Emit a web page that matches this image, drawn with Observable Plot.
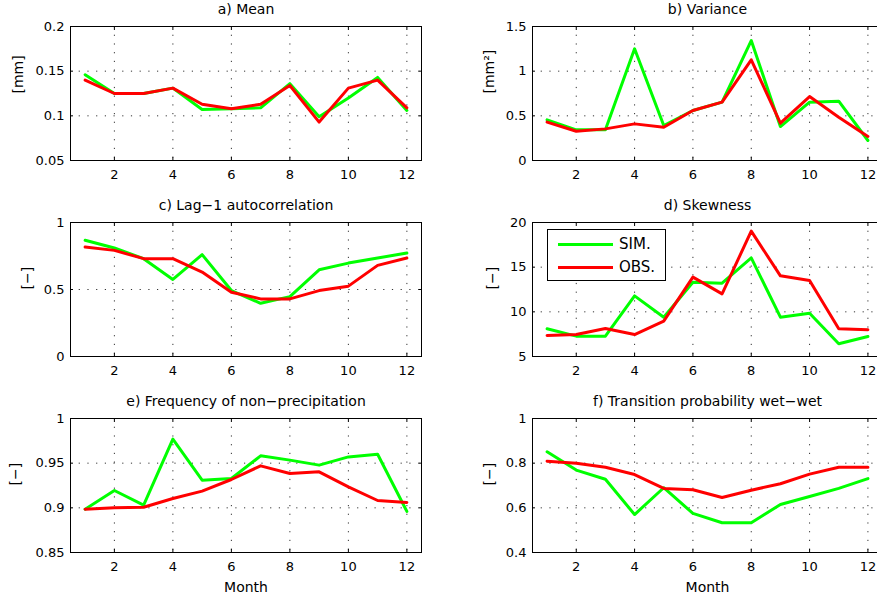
<!DOCTYPE html>
<html><head><meta charset="utf-8">
<script src="https://cdn.jsdelivr.net/npm/d3@7"></script>
<script src="https://cdn.jsdelivr.net/npm/@observablehq/plot@0.6"></script>
<style>
body{margin:0;background:#fff;}
#chart{position:relative;width:877px;height:597px;overflow:hidden;background:#fff;font-family:"DejaVu Sans",sans-serif;}
#chart svg{position:absolute;}
#legend{position:absolute;left:547px;top:229px;width:117px;height:50px;border:1px solid #000;background:#fff;font-size:15px;}
#legend .row{position:absolute;left:10px;height:20px;display:flex;align-items:center;}
#legend .sw{display:inline-block;width:55px;height:3px;margin-right:6px;}
</style></head><body><div id="chart"></div>
<script>
const months = [1,2,3,4,5,6,7,8,9,10,11,12];
const xTicks = [2,4,6,8,10,12];
const seriesNames = ["SIM.","OBS."];
const seriesColors = ["#00ff00","#ff0000"];

const titles = ["a) Mean","b) Variance","c) Lag\u22121 autocorrelation","d) Skewness","e) Frequency of non\u2212precipitation","f) Transition probability wet\u2212wet"];
const yLabels = ["[mm]","[mm\u00b2]","[\u2212]","[\u2212]","[\u2212]","[\u2212]"];
const xLabel = "Month";

const meanSim = [0.146,0.125,0.125,0.131,0.107,0.108,0.109,0.136,0.099,0.120,0.143,0.106];
const meanObs = [0.140,0.125,0.125,0.131,0.113,0.108,0.113,0.134,0.093,0.131,0.140,0.109];
const varSim = [0.455,0.343,0.343,1.25,0.392,0.56,0.653,1.343,0.38,0.653,0.664,0.224];
const varObs = [0.43,0.328,0.354,0.41,0.373,0.56,0.653,1.127,0.418,0.716,0.485,0.269];
const lagSim = [0.867,0.81,0.73,0.575,0.76,0.492,0.397,0.447,0.647,0.697,0.735,0.772];
const lagObs = [0.817,0.792,0.73,0.73,0.63,0.48,0.43,0.43,0.492,0.525,0.68,0.735];
const skewSim = [8.1,7.28,7.28,11.79,9.4,13.32,13.21,16.04,9.4,9.85,6.42,7.24];
const skewObs = [7.35,7.46,8.13,7.46,8.96,13.88,12.01,19.03,14.03,13.51,8.1,7.99];
const freqSim = [0.8985,0.9194,0.903,0.9769,0.931,0.9328,0.9582,0.9534,0.9478,0.957,0.960,0.896];
const freqObs = [0.8985,0.900,0.9007,0.9104,0.9187,0.9317,0.947,0.9384,0.9403,0.9235,0.9082,0.906];
const transSim = [0.851,0.769,0.728,0.57,0.69,0.575,0.533,0.533,0.615,0.651,0.687,0.731];
const transObs = [0.809,0.800,0.782,0.749,0.687,0.681,0.646,0.679,0.708,0.751,0.782,0.782];

const yTicksMean = [0.05,0.1,0.15,0.2];
const yTicksVar = [0,0.5,1,1.5];
const yTicksLag = [0,0.5,1];
const yTicksSkew = [5,10,15,20];
const yTicksFreq = [0.85,0.9,0.95,1];
const yTicksTrans = [0.4,0.6,0.8,1];

const sims = [meanSim,varSim,lagSim,skewSim,freqSim,transSim];
const obss = [meanObs,varObs,lagObs,skewObs,freqObs,transObs];
const yTicks = [yTicksMean,yTicksVar,yTicksLag,yTicksSkew,yTicksFreq,yTicksTrans];

// layout (positions only)
const layout = [
  {left:0,   top:0,   w:437, h:196, ml:70, mr:16, ylx:-52},
  {left:437, top:0,   w:446, h:196, ml:95, mr:1,  ylx:-43},
  {left:0,   top:196, w:437, h:196, ml:70, mr:16, ylx:-43},
  {left:437, top:196, w:446, h:196, ml:95, mr:1,  ylx:-40},
  {left:0,   top:392, w:437, h:205, ml:70, mr:16, ylx:-55},
  {left:437, top:392, w:446, h:205, ml:95, mr:1,  ylx:-43}
];

const chart = document.getElementById("chart");
const gridStyle = {stroke:"#000", strokeOpacity:0.8, strokeDasharray:"1.2,7.5", strokeWidth:1};

for (let i = 0; i < 6; i++) {
  const L = layout[i];
  const rows = [];
  sims[i].forEach((v,k)=>rows.push({month:months[k], value:v, series:seriesNames[0]}));
  obss[i].forEach((v,k)=>rows.push({month:months[k], value:v, series:seriesNames[1]}));
  const yt = yTicks[i];
  const marks = [
    Plot.gridX(xTicks, gridStyle),
    Plot.gridY(yt, gridStyle),
    Plot.axisX(xTicks, {anchor:"bottom", tickSize:0, tickPadding:9.5, fontSize:13, label:null}),
    Plot.axisX(xTicks, {anchor:"bottom", tickSize:3, dy:-3, tickFormat:()=>"", label:null}),
    Plot.axisX(xTicks, {anchor:"top", tickSize:3, dy:3, tickFormat:()=>"", label:null}),
    Plot.axisY(yt, {anchor:"left", tickSize:0, tickPadding:6, fontSize:13, tickFormat:d=>String(d), label:null}),
    Plot.axisY(yt, {anchor:"left", tickSize:3, dx:3, tickFormat:()=>"", label:null}),
    Plot.axisY(yt, {anchor:"right", tickSize:3, dx:-3, tickFormat:()=>"", label:null}),
    Plot.line(rows, {x:"month", y:"value", stroke:"series", z:"series", strokeWidth:3}),
    Plot.frame({stroke:"#000", strokeWidth:1}),
    Plot.text([titles[i]], {frameAnchor:"top", lineAnchor:"bottom", dy:-12.5, fontSize:14}),
    Plot.text([yLabels[i]], {frameAnchor:"left", rotate:-90, lineAnchor:"middle", dx:L.ylx, fontSize:14})
  ];
  if (i >= 4) marks.push(Plot.text([xLabel], {frameAnchor:"bottom", lineAnchor:"bottom", dy:39, fontSize:14}));
  const svg = Plot.plot({
    width:L.w, height:L.h,
    marginLeft:L.ml, marginRight:L.mr, marginTop:26, marginBottom:L.h-26-134,
    style:{fontFamily:"'DejaVu Sans', sans-serif", fontSize:"13px", background:"transparent", color:"#000", overflow:"visible"},
    x:{domain:[0.5,12.5], label:null},
    y:{domain:[yt[0], yt[yt.length-1]], label:null},
    color:{domain:seriesNames, range:seriesColors},
    marks
  });
  svg.style.left = L.left + "px";
  svg.style.top = L.top + "px";
  chart.appendChild(svg);
}

// legend in panel d
const legend = document.createElement("div");
legend.id = "legend";
seriesNames.forEach((name, k) => {
  const row = document.createElement("div");
  row.className = "row";
  row.style.top = (k === 0 ? 4 : 27) + "px";
  const sw = document.createElement("span");
  sw.className = "sw";
  sw.style.background = seriesColors[k];
  const t = document.createElement("span");
  t.textContent = name;
  row.appendChild(sw); row.appendChild(t);
  legend.appendChild(row);
});
chart.appendChild(legend);
</script></body></html>
